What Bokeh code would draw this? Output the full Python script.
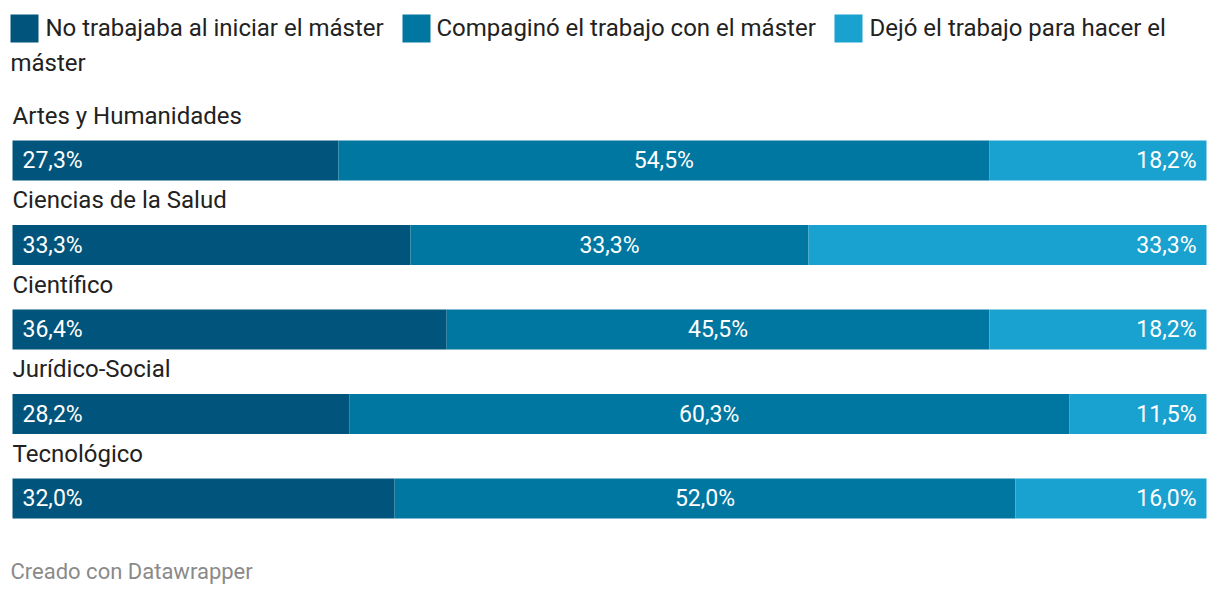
from bokeh.plotting import figure
from bokeh.models import Range1d, ColumnDataSource
from bokeh.core.properties import value
from bokeh.embed import file_html
from bokeh.resources import INLINE

categories = ["Artes y Humanidades", "Ciencias de la Salud", "Científico",
              "Jurídico-Social", "Tecnológico"]
series = ["No trabajaba al iniciar el máster", "Compaginó el trabajo con el máster",
          "Dejó el trabajo para hacer el máster"]
no_trabajaba = [27.3, 33.3, 36.4, 28.2, 32.0]
compagino = [54.5, 33.3, 45.5, 60.3, 52.0]
dejo = [18.2, 33.3, 18.2, 11.5, 16.0]
labels_no = ["27,3%", "33,3%", "36,4%", "28,2%", "32,0%"]
labels_comp = ["54,5%", "33,3%", "45,5%", "60,3%", "52,0%"]
labels_dejo = ["18,2%", "33,3%", "18,2%", "11,5%", "16,0%"]
footer = "Creado con Datawrapper"

colors = ["#01557c", "#0077a1", "#19a1cf"]
FONT = "Roboto"

W, H = 1212, 590
X0, Y0 = 0, 0
p = figure(width=W, height=H, output_backend="svg", toolbar_location=None,
           x_range=Range1d(X0, X0 + W), y_range=Range1d(Y0 + H, Y0),
           min_border=0, outline_line_color=None)
p.xaxis.visible = False
p.yaxis.visible = False
p.grid.visible = False

# data ranges: percent on x, row index on y
px_per_pct = (1206 - 12) / 100.0
p.extra_x_ranges = {"pct": Range1d(-(12 - X0) / px_per_pct, 100 + (X0 + W - 1206) / px_per_pct)}
row_step = 84.5
p.extra_y_ranges = {"rows": Range1d((Y0 + H - 160) / row_step, (Y0 - 160) / row_step)}

rows = list(range(len(categories)))
l1, r1, l2, r2, l3, r3 = [], [], [], [], [], []
for a, b, c in zip(no_trabajaba, compagino, dejo):
    t = a + b + c
    a_, b_ = a / t * 100, b / t * 100
    l1.append(0); r1.append(a_)
    l2.append(a_); r2.append(a_ + b_)
    l3.append(a_ + b_); r3.append(100)

src = ColumnDataSource(dict(row=rows, cat=categories, l1=l1, r1=r1, l2=l2, r2=r2, l3=l3, r3=r3,
                            m2=[(a + b) / 2 for a, b in zip(l2, r2)],
                            t1=labels_no, t2=labels_comp, t3=labels_dejo,
                            catY=[r - 0.53 for r in rows]))
bh = 40 / row_step
for (lk, rk), col in zip([("l1", "r1"), ("l2", "r2"), ("l3", "r3")], colors):
    p.hbar(y="row", left=lk, right=rk, height=bh, source=src, color=col, line_color=None,
           x_range_name="pct", y_range_name="rows")

vfs = "23px"
fs = "24px"
p.text(x=0, y="row", text="t1", source=src, x_range_name="pct", y_range_name="rows",
       x_offset=10, text_align="left", text_baseline="middle", text_color="white",
       text_font=value(FONT), text_font_size=vfs)
p.text(x="m2", y="row", text="t2", source=src, x_range_name="pct", y_range_name="rows",
       text_align="center", text_baseline="middle", text_color="white",
       text_font=value(FONT), text_font_size=vfs)
p.text(x=100, y="row", text="t3", source=src, x_range_name="pct", y_range_name="rows",
       x_offset=-10, text_align="right", text_baseline="middle", text_color="white",
       text_font=value(FONT), text_font_size=vfs)
p.text(x=0, y="catY", text="cat", source=src, x_range_name="pct", y_range_name="rows",
       text_align="left", text_baseline="middle", text_color="#222222",
       text_font=value(FONT), text_font_size=fs)

# legend (page pixel coordinates)
sw_x = [24, 416, 848]
tx_x = [45, 436, 869]
p.rect(x=sw_x, y=[28] * 3, width=28, height=28, color=colors, line_color=None)
p.text(x=tx_x[:2], y=[27, 27], text=series[:2], text_align="left", text_baseline="middle",
       text_color="#222222", text_font=value(FONT), text_font_size=fs)
first, last = series[2].rsplit(" ", 1)
p.text(x=[tx_x[2], 10], y=[27, 62], text=[first, last], text_align="left",
       text_baseline="middle", text_color="#222222", text_font=value(FONT), text_font_size=fs)

p.text(x=[10], y=[571], text=[footer], text_align="left", text_baseline="middle",
       text_color="#8a8a8a", text_font=value(FONT), text_font_size="22px")

open("out.html", "w").write(file_html(p, INLINE))
